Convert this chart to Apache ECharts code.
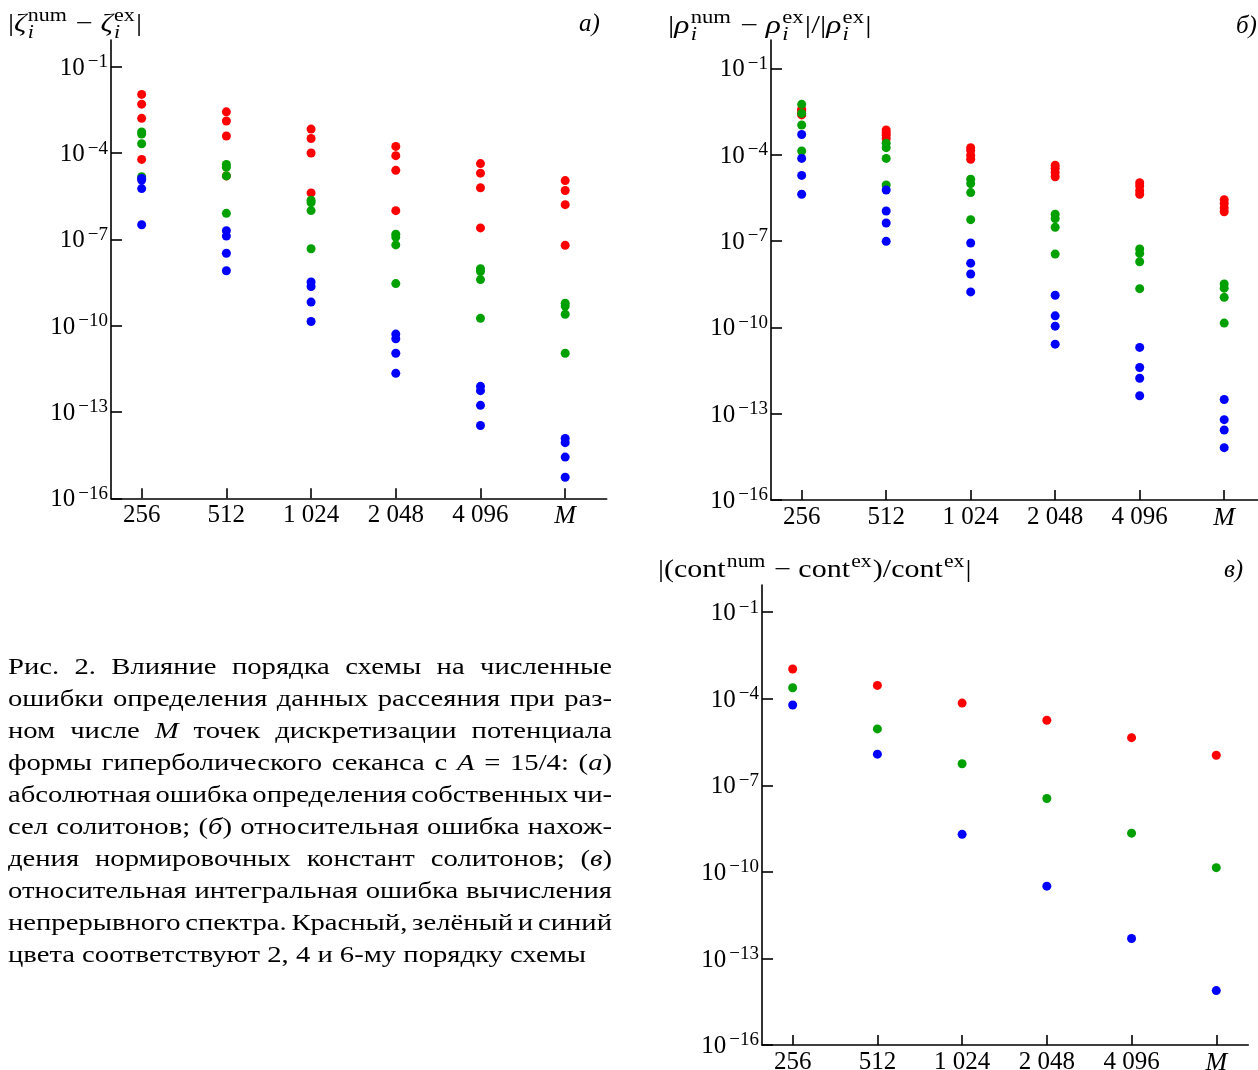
<!DOCTYPE html>
<html>
<head>
<meta charset="utf-8">
<script src="https://cdn.jsdelivr.net/npm/echarts@6/dist/echarts.min.js"></script>
<style>
html, body { margin: 0; padding: 0; background: #fff; }
#main { width: 1258px; height: 1070px; }
</style>
</head>
<body>
<div id="main"></div>
<script>
// grid size M on the x axis, last column is the exact-potential M
const categories = ['256', '512', '1 024', '2 048', '4 096', 'M'];
const yTicks = [1e-16, 1e-13, 1e-10, 1e-7, 1e-4, 1e-1];

// a) |zeta_num - zeta_ex|, 4 solitons per column
const zetaRed = [
  [1.09e-2, 5.0e-3, 1.6e-3, 6.0e-5],
  [2.7e-3, 1.3e-3, 3.9e-4, 1.6e-5],
  [6.8e-4, 3.2e-4, 1.0e-4, 4.1e-6],
  [1.7e-4, 8.1e-5, 2.5e-5, 9.9e-7],
  [4.3e-5, 2.0e-5, 6.2e-6, 2.5e-7],
  [1.1e-5, 5.0e-6, 1.6e-6, 6.2e-8]
];
const zetaGreen = [
  [5.4e-4, 4.6e-4, 2.1e-4, 1.5e-5],
  [4.0e-5, 3.2e-5, 1.6e-5, 8.0e-7],
  [2.3e-6, 1.9e-6, 1.0e-6, 4.7e-8],
  [1.5e-7, 1.2e-7, 6.4e-8, 2.9e-9],
  [9.5e-9, 7.7e-9, 4.0e-9, 1.8e-10],
  [6.0e-10, 4.8e-10, 2.5e-10, 1.1e-11]
];
const zetaBlue = [
  [1.3e-5, 1.15e-5, 5.8e-6, 3.2e-7],
  [2.0e-7, 1.3e-7, 3.3e-8, 8.1e-9],
  [3.3e-9, 2.3e-9, 6.6e-10, 1.4e-10],
  [5.1e-11, 3.5e-11, 1.1e-11, 2.2e-12],
  [7.8e-13, 5.5e-13, 1.7e-13, 3.4e-14],
  [1.2e-14, 8.6e-15, 2.7e-15, 5.4e-16]
];

// b) |rho_num - rho_ex| / |rho_ex|
const rhoRed = [
  [3.8e-3, 3.3e-3, 2.7e-3, 2.4e-3],
  [7.2e-4, 5.8e-4, 4.7e-4, 3.6e-4],
  [1.75e-4, 1.4e-4, 9.5e-5, 6.9e-5],
  [4.3e-5, 3.35e-5, 2.4e-5, 1.7e-5],
  [1.06e-5, 8.1e-6, 5.6e-6, 4.2e-6],
  [2.7e-6, 2.0e-6, 1.4e-6, 1.04e-6]
];
const rhoGreen = [
  [5.6e-3, 2.7e-3, 1.07e-3, 1.34e-4],
  [2.5e-4, 1.75e-4, 7.4e-5, 8.8e-6],
  [1.4e-5, 9.8e-6, 4.8e-6, 5.5e-7],
  [8.5e-7, 6.0e-7, 3.0e-7, 3.5e-8],
  [5.3e-8, 3.7e-8, 1.9e-8, 2.2e-9],
  [3.2e-9, 2.3e-9, 1.1e-9, 1.4e-10]
];
const rhoBlue = [
  [5.0e-4, 7.4e-5, 1.9e-5, 4.2e-6],
  [5.9e-6, 1.1e-6, 4.2e-7, 9.7e-8],
  [8.5e-8, 1.7e-8, 7.1e-9, 1.7e-9],
  [1.3e-9, 2.5e-10, 1.1e-10, 2.6e-11],
  [2.0e-11, 4.0e-12, 1.7e-12, 4.2e-13],
  [3.1e-13, 6.2e-14, 2.7e-14, 6.6e-15]
];

// c) continuous spectrum, one value per column
const contRed = [1.08e-3, 2.9e-4, 7.1e-5, 1.8e-5, 4.5e-6, 1.1e-6];
const contGreen = [2.4e-4, 9.0e-6, 5.6e-7, 3.5e-8, 2.2e-9, 1.4e-10];
const contBlue = [6.1e-5, 1.2e-6, 2.0e-9, 3.2e-11, 4.9e-13, 7.7e-15];

const captionLines = [
  'Рис. 2. Влияние порядка схемы на численные',
  'ошибки определения данных рассеяния при раз-',
  'ном числе *M* точек дискретизации потенциала',
  'формы гиперболического секанса с *A* = 15/4: (*а*)',
  'абсолютная ошибка определения собственных чи-',
  'сел солитонов; (*б*) относительная ошибка нахож-',
  'дения нормировочных констант солитонов; (*в*)',
  'относительная интегральная ошибка вычисления',
  'непрерывного спектра. Красный, зелёный и синий',
  'цвета соответствуют 2, 4 и 6-му порядку схемы'
];

const RED = '#ff0000', GREEN = '#00a000', BLUE = '#0000ff';
const FONT = 'Liberation Serif';
const FF = '"Liberation Serif", serif';

const cv = document.createElement('canvas').getContext('2d');
function tw(t, size, it) {
  cv.font = (it ? 'italic ' : '') + size + 'px "' + FONT + '"';
  return cv.measureText(t).width;
}
function txt(t, x, base, size, it) {
  // y given as baseline, text drawn vertically centred
  return {
    type: 'text', x: x, y: base - size * 0.34, silent: true,
    style: { text: t, font: (it ? 'italic ' : '') + size + 'px ' + FF, fill: '#000', verticalAlign: 'middle', align: 'left' }
  };
}
// formula with stacked sup/sub, stretched a little to get the TeX width
function mathText(tokens, x0, base, size, sx) {
  const out = [];
  const ss = Math.round(size * 0.72);
  let x = 0;
  tokens.forEach(tk => {
    out.push(txt(tk.t, x, 0, size, tk.it));
    x += tw(tk.t, size, tk.it);
    if (tk.sup || tk.sub) {
      let w2 = 0;
      if (tk.sup) { out.push(txt(tk.sup, x + 1, -size * 0.42, ss, false)); w2 = tw(tk.sup, ss) + 1; }
      if (tk.sub) { out.push(txt(tk.sub, x + 1, size * 0.24, ss, true)); w2 = Math.max(w2, tw(tk.sub, ss, true) + 1); }
      x += w2 + 1;
    }
  });
  return { type: 'group', x: x0, y: base, scaleX: sx, children: out };
}

function parseWord(w) {
  return w.split('*').map((s, i) => ({ t: s, it: i % 2 === 1 })).filter(s => s.t.length);
}
function captionGraphic(x0, y0, width, lineGap, size) {
  const lastW = tw(captionLines[captionLines.length - 1], size, false);
  const sx = 578 / lastW;
  const target = width / sx;
  const children = [];
  captionLines.forEach((line, li) => {
    const words = line.split(' ').map(parseWord);
    const ww = words.map(w => w.reduce((a, s) => a + tw(s.t, size, s.it), 0));
    const total = ww.reduce((a, b) => a + b, 0);
    const last = li === captionLines.length - 1;
    const gap = last ? tw(' ', size, false) : (target - total) / (words.length - 1);
    let x = 0;
    const base = li * lineGap;
    words.forEach((w, wi) => {
      let xx = x;
      w.forEach(s => { children.push(txt(s.t, xx, base, size, s.it)); xx += tw(s.t, size, s.it); });
      x += ww[wi] + gap;
    });
  });
  return { type: 'group', x: x0, y: y0, scaleX: sx, children: children };
}

function toPoints(cols) {
  return cols.flatMap((col, i) => (Array.isArray(col) ? col : [col]).map(v => [i, v]));
}

const axisColor = { color: '#000', width: 1.6 };
const colIdx = [0, 1, 2, 3, 4, 5];

function makeX(gi, min, max) {
  return {
    type: 'value', gridIndex: gi, min: min, max: max,
    axisLine: { show: true, onZero: false, lineStyle: axisColor },
    axisTick: { show: true, inside: true, length: 10, customValues: colIdx, lineStyle: axisColor },
    axisLabel: {
      customValues: colIdx, margin: 5, color: '#000', fontSize: 25, fontFamily: FF,
      formatter: v => { const c = categories[Math.round(v)]; return c === 'M' ? '{it|M}' : c; },
      rich: { it: { fontStyle: 'italic', fontSize: 26, fontFamily: FF, color: '#000' } }
    },
    splitLine: { show: false }
  };
}
function makeY(gi, max) {
  return {
    type: 'log', logBase: 10, gridIndex: gi, min: 1e-16, max: max,
    axisLine: { show: true, onZero: false, lineStyle: axisColor },
    axisTick: { show: true, inside: true, length: 11, customValues: yTicks, lineStyle: axisColor },
    minorTick: { show: false },
    axisLabel: {
      customValues: yTicks, margin: 3, color: '#000',
      formatter: v => '{b|10}{s|\u2212' + (-Math.round(Math.log10(v))) + '}',
      rich: {
        b: { fontSize: 25, fontFamily: FF, color: '#000', lineHeight: 28, verticalAlign: 'bottom' },
        s: { fontSize: 19, fontFamily: FF, color: '#000', lineHeight: 14, verticalAlign: 'top', padding: [0, 0, 0, 3] }
      }
    },
    splitLine: { show: false }
  };
}
function scatter(gi, cols, color) {
  return {
    type: 'scatter', xAxisIndex: gi, yAxisIndex: gi, data: toPoints(cols),
    symbol: 'circle', symbolSize: 9, itemStyle: { color: color, opacity: 1 },
    emphasis: { disabled: true }
  };
}

const chart = echarts.init(document.getElementById('main'), null, { renderer: 'canvas' });

const titleA = mathText([
  { t: '|' }, { t: 'ζ', it: true, sup: 'num', sub: 'i' }, { t: ' − ' },
  { t: 'ζ', it: true, sup: 'ex', sub: 'i' }, { t: '|' }
], 8, 33, 25, 1.22);
const titleB = mathText([
  { t: '|' }, { t: 'ρ', it: true, sup: 'num', sub: 'i' }, { t: ' − ' },
  { t: 'ρ', it: true, sup: 'ex', sub: 'i' }, { t: '|/|' },
  { t: 'ρ', it: true, sup: 'ex', sub: 'i' }, { t: '|' }
], 668, 35, 25, 1.26);
const titleC = mathText([
  { t: '|(cont', sup: 'num' }, { t: ' − cont', sup: 'ex' }, { t: ')/cont', sup: 'ex' }, { t: '|' }
], 658, 579, 25, 1.2);
const letters = [
  txt('a)', 579, 33, 25, true),
  txt('б)', 1236, 35, 25, true),
  txt('в)', 1224, 579, 25, true)
];

chart.setOption({
  animation: false,
  backgroundColor: '#fff',
  grid: [
    { left: 111, top: 40, width: 495.7, height: 458.3, outerBoundsMode: 'none', containLabel: false },
    { left: 771, top: 40, width: 487, height: 460, outerBoundsMode: 'none', containLabel: false },
    { left: 762, top: 585, width: 486.3, height: 460, outerBoundsMode: 'none', containLabel: false }
  ],
  xAxis: [makeX(0, -0.362, 5.49), makeX(1, -0.363, 5.40), makeX(2, -0.362, 5.378)],
  yAxis: [makeY(0, 0.847), makeY(1, 0.962), makeY(2, 0.877)],
  series: [
    scatter(0, zetaRed, RED), scatter(0, zetaGreen, GREEN), scatter(0, zetaBlue, BLUE),
    scatter(1, rhoRed, RED), scatter(1, rhoGreen, GREEN), scatter(1, rhoBlue, BLUE),
    scatter(2, contRed, RED), scatter(2, contGreen, GREEN), scatter(2, contBlue, BLUE)
  ],
  graphic: { elements: [].concat([titleA, titleB, titleC], letters, [captionGraphic(8, 676, 604, 32, 24)]) }
});
</script>
</body>
</html>
